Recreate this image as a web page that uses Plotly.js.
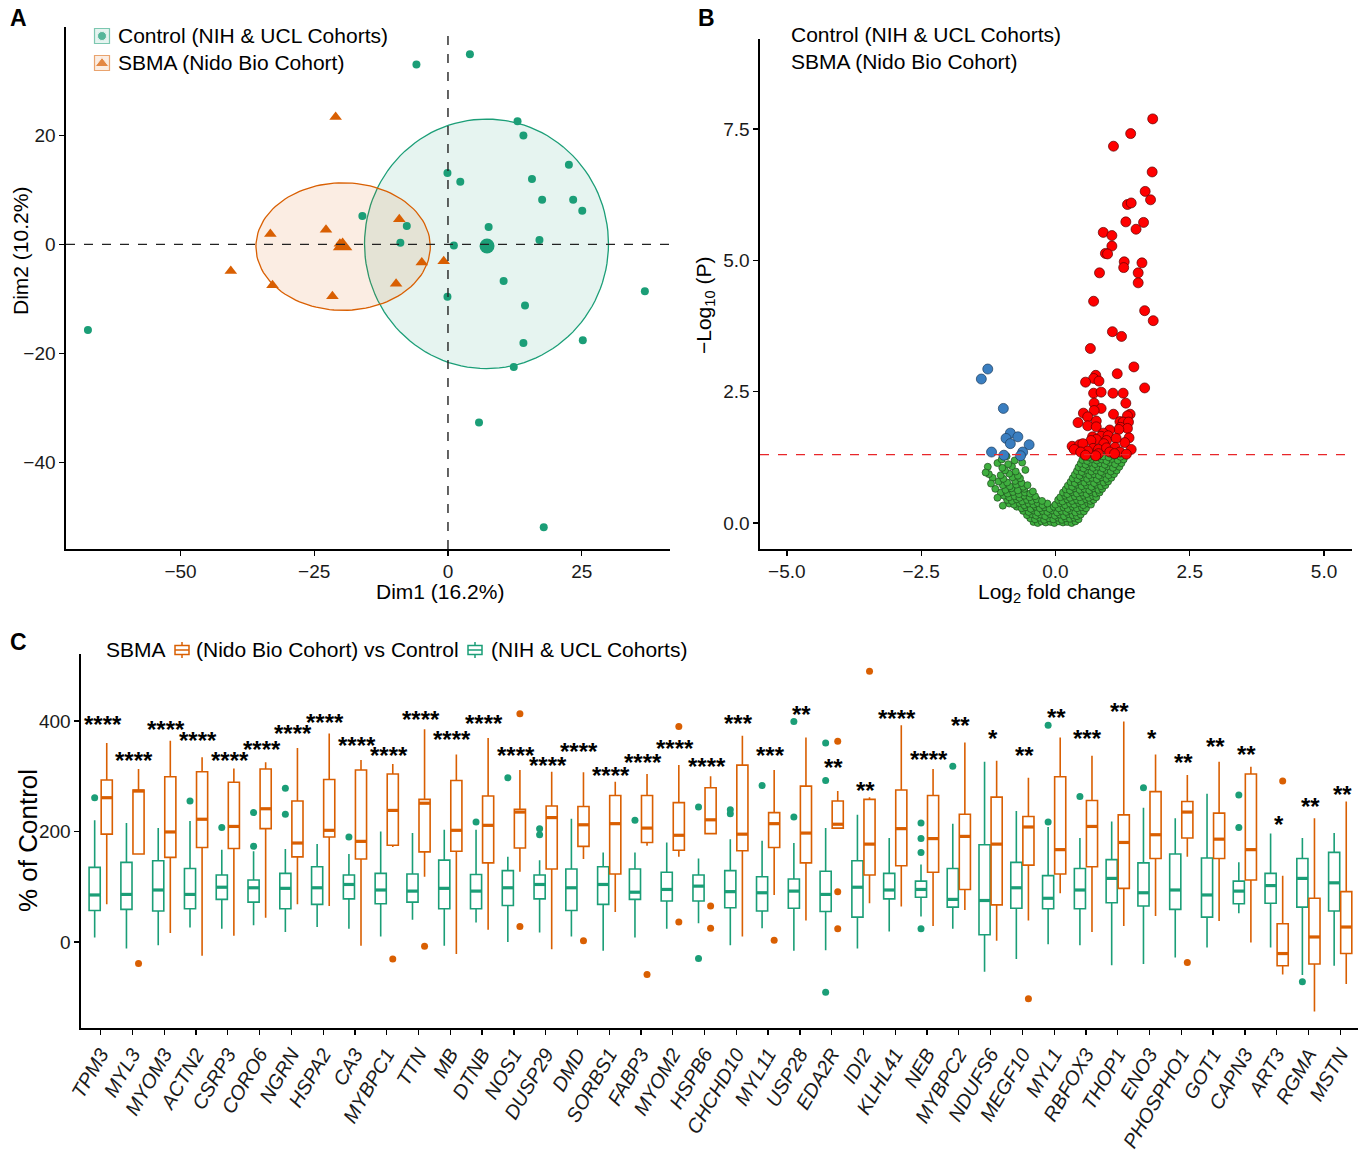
<!DOCTYPE html>
<html><head><meta charset="utf-8">
<script src="https://cdn.plot.ly/plotly-3.0.1.min.js"></script>
<style>html,body{margin:0;padding:0;background:#fff}#chart{width:1366px;height:1153px}</style>
</head><body><div id="chart"></div>
<script>
// ---------------- Panel A : PCA individuals ----------------
const ctrlDim1 = [-5.9, 4.1, 13.0, 14.1, 22.6, -0.1, 2.3, 15.7, 17.6, 23.4, 25.1, -16.0, -7.7, 7.6, -8.9, 1.1, 17.1, 10.4, -0.1, 14.4, 36.8, 14.1, 25.2, 12.3, -67.3, 5.8, 17.9];
const ctrlDim2 = [33.0, 34.9, 22.6, 20.0, 14.6, 13.1, 11.5, 12.0, 8.2, 8.2, 6.2, 5.2, 3.4, 3.2, 0.3, -0.2, 0.8, -6.7, -9.6, -11.2, -8.6, -18.1, -17.6, -22.5, -15.7, -32.7, -51.9];
const sbmaDim1 = [-21.0, -9.1, -22.8, -33.2, -20.2, -4.9, -0.8, -40.6, -32.8, -9.7, -21.6];
const sbmaDim2 = [23.4, 4.6, 2.7, 1.9, 0.1, -3.3, -3.1, -4.9, -7.5, -7.2, -9.5];
const groupNamesA = ['Control (NIH & UCL Cohorts)', 'SBMA (Nido Bio Cohort)'];
const centroidDim1 = [7.3, -19.7];
const centroidDim2 = [-0.3, -0.3];
const ellipseCx = [7.2, -19.6];
const ellipseCy = [0.1, -0.4];
const ellipseRx = [22.8, 16.3];
const ellipseRy = [22.9, 11.7];

// ---------------- Panel B : volcano ----------------
const upLogFC = [1.81,1.40,1.08,1.80,1.67,1.77,1.34,1.41,1.31,1.64,1.50,0.89,1.05,1.05,0.93,0.97,1.28,1.27,1.61,1.54,0.82,1.54,0.71,1.66,1.82,1.06,1.23,0.65,1.46,1.15,0.75,0.71,0.81,0.56,1.66,0.71,0.85,1.07,1.26,0.72,1.31,0.85,0.72,1.08,0.52,0.60,1.39,1.34,0.76,0.42,1.20,1.26,0.60,0.76,1.36,1.21,1.34,1.18,1.01,0.89,0.85,0.69,0.98,1.37,1.29,0.76,0.66,0.95,1.13,0.90,0.31,0.45,0.51,0.35,0.70,0.80,0.95,1.11,1.41,0.60,0.47,1.01,0.80,0.56,0.75,1.20,1.32,1.10];
const upLogP = [7.69,7.41,7.17,6.68,6.31,6.15,6.06,6.09,5.73,5.72,5.59,5.53,5.47,5.27,5.13,5.12,4.97,4.86,4.95,4.76,4.76,4.57,4.22,4.04,3.85,3.64,3.55,3.32,2.97,2.84,2.81,2.75,2.70,2.68,2.57,2.47,2.49,2.47,2.47,2.28,2.28,2.18,2.14,2.07,2.09,2.02,2.07,2.04,1.94,1.91,1.93,1.92,1.85,1.83,1.92,1.82,1.80,1.78,1.77,1.71,1.65,1.64,1.66,1.62,1.53,1.59,1.57,1.57,1.61,1.51,1.46,1.49,1.51,1.40,1.42,1.40,1.43,1.44,1.40,1.37,1.35,1.35,1.32,1.29,1.28,1.35,1.31,1.32];
const downLogFC = [-1.26,-1.38,-0.97,-0.84,-0.92,-0.70,-0.84,-0.49,-1.19,-0.96,-0.61,-0.65];
const downLogP = [2.93,2.74,2.18,1.71,1.61,1.64,1.51,1.49,1.35,1.29,1.35,1.28];
// non-significant genes (log2FC, -log10 P), read from the dense cloud
const nsPoints = [
 [-0.41,0.02],[-0.33,0.00],[-0.26,0.03],[-0.18,0.01],[-0.09,0.02],[-0.02,0.00],[0.07,0.03],[0.14,0.01],[0.22,0.02],[0.30,0.00],[0.37,0.03],
 [-0.47,0.09],[-0.38,0.07],[-0.29,0.10],[-0.21,0.06],[-0.12,0.09],[-0.04,0.07],[0.05,0.10],[0.12,0.06],[0.19,0.09],[0.27,0.08],[0.35,0.10],[0.43,0.07],
 [-0.53,0.15],[-0.44,0.17],[-0.36,0.14],[-0.27,0.16],[-0.19,0.13],[-0.10,0.17],[-0.01,0.14],[0.08,0.16],[0.16,0.13],[0.24,0.17],[0.32,0.15],[0.40,0.13],[0.47,0.16],
 [-0.60,0.23],[-0.50,0.21],[-0.41,0.24],[-0.33,0.20],[-0.24,0.23],[-0.15,0.21],[-0.06,0.24],[0.03,0.20],[0.11,0.23],[0.20,0.21],[0.28,0.24],[0.37,0.20],[0.45,0.23],[0.53,0.22],
 [-0.72,0.31],[-0.63,0.28],[-0.55,0.30],[-0.46,0.27],[-0.37,0.31],[-0.29,0.28],[-0.20,0.30],[-0.11,0.27],[-0.03,0.31],[0.06,0.28],[0.15,0.30],[0.23,0.27],[0.32,0.31],[0.40,0.28],[0.49,0.30],[0.57,0.28],
 [-0.86,0.37],[-0.77,0.35],[-0.67,0.38],[-0.58,0.34],[-0.50,0.37],[-0.41,0.35],[-0.33,0.38],[-0.24,0.34],[-0.15,0.37],[0.00,0.35],[0.09,0.38],[0.18,0.34],[0.27,0.37],[0.35,0.35],[0.44,0.38],[0.52,0.34],[0.61,0.37],[0.66,0.35],
 [-0.90,0.44],[-0.81,0.42],[-0.72,0.45],[-0.62,0.41],[-0.53,0.44],[-0.44,0.42],[-0.35,0.45],[-0.25,0.42],[0.05,0.44],[0.13,0.41],[0.22,0.45],[0.31,0.42],[0.40,0.44],[0.48,0.41],[0.57,0.45],[0.65,0.42],[0.71,0.44],
 [-0.96,0.52],[-0.86,0.49],[-0.76,0.51],[-0.67,0.48],[-0.58,0.52],[-0.48,0.49],[-0.38,0.51],[0.09,0.49],[0.18,0.52],[0.27,0.48],[0.36,0.51],[0.45,0.49],[0.53,0.52],[0.62,0.48],[0.70,0.51],[0.76,0.49],
 [-1.02,0.58],[-0.89,0.56],[-0.79,0.59],[-0.68,0.55],[-0.57,0.58],[-0.47,0.56],[0.14,0.58],[0.22,0.55],[0.31,0.59],[0.40,0.56],[0.49,0.58],[0.58,0.55],[0.66,0.59],[0.75,0.56],[0.82,0.58],
 [-1.12,0.65],[-0.93,0.63],[-0.82,0.66],[-0.70,0.62],[-0.58,0.65],[0.19,0.64],[0.27,0.62],[0.36,0.66],[0.45,0.63],[0.54,0.65],[0.63,0.62],[0.71,0.66],[0.80,0.63],[0.87,0.65],
 [-0.98,0.72],[-0.85,0.70],[-0.73,0.73],[-0.60,0.69],[0.23,0.71],[0.31,0.69],[0.40,0.73],[0.49,0.70],[0.58,0.72],[0.67,0.69],[0.76,0.73],[0.85,0.70],[0.93,0.72],
 [-1.06,0.79],[-0.90,0.77],[-0.75,0.80],[-0.63,0.76],[0.28,0.78],[0.36,0.76],[0.45,0.80],[0.54,0.77],[0.63,0.79],[0.72,0.76],[0.81,0.80],[0.90,0.77],[0.98,0.79],
 [-1.17,0.86],[-0.97,0.84],[-0.80,0.87],[-0.66,0.85],[0.32,0.85],[0.41,0.83],[0.50,0.87],[0.59,0.84],[0.68,0.86],[0.77,0.83],[0.86,0.87],[0.95,0.84],[1.04,0.86],
 [-1.24,0.93],[-1.02,0.91],[-0.86,0.94],[-0.70,0.90],[0.36,0.92],[0.45,0.90],[0.54,0.94],[0.63,0.91],[0.72,0.93],[0.81,0.90],[0.90,0.94],[0.99,0.91],[1.09,0.93],
 [-0.94,1.00],[-0.74,0.98],[-0.56,1.01],[0.40,0.99],[0.49,0.97],[0.58,1.01],[0.67,0.98],[0.76,1.00],[0.85,0.97],[0.94,1.01],[1.03,0.98],[1.14,1.00],
 [-1.26,1.07],[-0.99,1.05],[-0.81,1.08],[0.43,1.06],[0.52,1.04],[0.61,1.08],[0.70,1.05],[0.79,1.07],[0.88,1.04],[0.97,1.08],[1.07,1.05],[1.19,1.07],
 [-1.08,1.14],[-0.88,1.12],[-0.62,1.15],[0.47,1.13],[0.56,1.11],[0.65,1.15],[0.74,1.12],[0.83,1.14],[0.92,1.11],[1.01,1.15],[1.11,1.12],[1.23,1.14],
 [-1.00,1.21],[-0.76,1.19],[0.50,1.20],[0.59,1.18],[0.68,1.22],[0.77,1.19],[0.86,1.21],[0.95,1.18],[1.05,1.22],[1.16,1.19],[1.27,1.21],
 [-0.91,1.27],[-0.66,1.26],[0.53,1.27],[0.62,1.25],[0.71,1.28],[0.80,1.26],[0.89,1.27],[0.99,1.25],[1.09,1.28],[1.21,1.26],
 [-1.30,0.96],[-1.20,0.75],[-1.08,0.48],[-0.98,0.33],[-0.42,0.60],[-0.52,0.72]
];
const pThreshold = 0.05;

// ---------------- Panel C : box plots ----------------
const genes = ['TPM3','MYL3','MYOM3','ACTN2','CSRP3','CORO6','NGRN','HSPA2','CA3','MYBPC1','TTN','MB','DTNB','NOS1','DUSP29','DMD','SORBS1','FABP3','MYOM2','HSPB6','CHCHD10','MYL11','USP28','EDA2R','IDI2','KLHL41','NEB','MYBPC2','NDUFS6','MEGF10','MYL1','RBFOX3','THOP1','ENO3','PHOSPHO1','GOT1','CAPN3','ART3','RGMA','MSTN'];
const ctrlQ1  = [57,59,56,60,77,72,60,68,78,69,72,60,60,66,78,57,68,77,74,74,62,56,61,55,45,78,81,63,13,61,60,60,71,65,59,45,69,70,63,56];
const ctrlMed = [85,86,94,86,99,98,97,98,104,94,92,97,92,98,104,98,104,90,95,101,91,89,92,86,99,94,95,77,75,98,79,94,115,89,94,85,92,102,115,107];
const ctrlQ3  = [135,144,147,133,121,112,124,136,121,124,123,148,122,129,121,132,136,132,126,121,129,118,114,128,147,124,110,133,176,144,120,133,149,143,159,152,110,124,151,162];
const ctrlLo  = [8,-12,-6,26,24,30,18,27,24,10,40,-7,35,0,17,10,-16,8,24,34,-6,25,-16,-15,-12,19,46,24,-54,-31,-4,-6,-42,-40,-28,-10,52,-10,-60,-43];
const ctrlHi  = [220,215,206,219,167,164,168,177,159,200,197,203,203,154,148,223,162,162,180,151,186,183,179,206,230,188,140,214,326,237,208,188,218,243,224,268,144,196,188,197];
const sbmaQ1  = [195,159,153,171,169,205,154,190,150,175,163,164,143,170,132,173,123,180,166,196,165,171,143,206,121,138,126,95,67,139,123,136,97,151,188,151,112,-43,-40,-21];
const sbmaMed = [261,273,199,222,209,241,179,202,182,238,251,202,211,235,225,212,214,206,193,221,195,214,197,213,177,205,187,191,177,208,167,209,180,194,235,186,167,-21,9,27];
const sbmaQ3  = [293,275,299,308,289,313,255,294,311,304,258,292,264,240,246,245,265,265,252,279,320,234,282,255,258,275,265,231,262,227,299,256,230,272,254,233,304,33,79,91];
const sbmaLo  = [68,159,16,-25,11,44,68,65,-7,172,118,-22,22,127,-13,150,54,174,154,196,10,85,39,206,70,64,29,58,2,39,88,18,29,47,154,38,-1,-59,-126,-76];
const sbmaHi  = [360,313,364,334,314,325,351,377,329,322,385,339,369,311,308,307,290,304,320,300,373,311,370,273,262,392,313,361,328,297,370,337,399,339,302,326,317,120,224,254];
const ctrlOutGene = ['TPM3','ACTN2','CSRP3','CORO6','CORO6','NGRN','NGRN','CA3','DTNB','NOS1','DUSP29','DUSP29','FABP3','HSPB6','HSPB6','CHCHD10','CHCHD10','MYL11','USP28','USP28','EDA2R','EDA2R','EDA2R','NEB','NEB','NEB','NEB','MYBPC2','MYL1','MYL1','RBFOX3','ENO3','CAPN3','CAPN3','RGMA'];
const ctrlOutVal  = [261,255,207,234,173,278,231,190,217,297,205,194,220,244,-30,239,232,283,399,226,360,292,-91,215,187,162,24,318,392,217,263,279,266,207,-72];
const sbmaOutGene = ['MYL3','MYBPC1','TTN','NOS1','NOS1','DMD','FABP3','MYOM2','MYOM2','HSPB6','HSPB6','MYL11','EDA2R','EDA2R','EDA2R','IDI2','MEGF10','PHOSPHO1','ART3'];
const sbmaOutVal  = [-39,-31,-8,413,28,2,-59,390,36,65,25,3,363,91,24,490,-103,-37,291];
const sigLabel = ['****','****','****','****','****','****','****','****','****','****','****','****','****','****','****','****','****','****','****','****','***','***','**','**','**','****','****','**','*','**','**','***','**','*','**','**','**','*','**','**'];
const sigY = [402,337,394,373,337,357,386,407,364,346,411,375,404,346,329,354,311,334,359,327,404,346,420,324,283,413,340,401,377,346,415,378,426,378,334,362,349,221,254,275];
const legendTitleC = 'SBMA';
const groupNamesC = ['(Nido Bio Cohort) vs Control', '(NIH & UCL Cohorts)'];

// ---------------- styling ----------------
const FONT = 'Liberation Sans, Arial, Helvetica, sans-serif';
const GREEN = '#1B9E77', ORANGE = '#D95F02';
const GREEN_FILL = 'rgba(27,158,119,0.11)', ORANGE_FILL = 'rgba(217,95,2,0.11)';
const W = 1366, H = 1153;
const px = v => v / W, py = v => 1 - v / H;
const traces = [];

// Panel A ellipses
for (let g = 0; g < 2; g++) {
  const ex = [], ey = [];
  for (let k = 0; k <= 120; k++) {
    const t = 2 * Math.PI * k / 120;
    ex.push(ellipseCx[g] + ellipseRx[g] * Math.cos(t));
    ey.push(ellipseCy[g] + ellipseRy[g] * Math.sin(t));
  }
  traces.push({type:'scatter', mode:'lines', x:ex, y:ey, xaxis:'x', yaxis:'y', fill:'toself',
    fillcolor: g === 0 ? GREEN_FILL : ORANGE_FILL, line:{color: g === 0 ? GREEN : ORANGE, width:1.3}, hoverinfo:'skip'});
}
traces.push({type:'scatter', mode:'markers', x:ctrlDim1, y:ctrlDim2, xaxis:'x', yaxis:'y', marker:{color:GREEN, size:8, symbol:'circle'}});
traces.push({type:'scatter', mode:'markers', x:sbmaDim1, y:sbmaDim2, xaxis:'x', yaxis:'y', marker:{color:ORANGE, size:11, symbol:'triangle-up'}});
traces.push({type:'scatter', mode:'markers', x:[centroidDim1[0]], y:[centroidDim2[0]], xaxis:'x', yaxis:'y', marker:{color:GREEN, size:15, symbol:'circle'}});
traces.push({type:'scatter', mode:'markers', x:[centroidDim1[1]], y:[centroidDim2[1]], xaxis:'x', yaxis:'y', marker:{color:ORANGE, size:17, symbol:'triangle-up'}});

// Panel B
traces.push({type:'scatter', mode:'markers', x:nsPoints.map(p => p[0]), y:nsPoints.map(p => p[1]), xaxis:'x2', yaxis:'y2',
  marker:{color:'#3FAF3F', size:7, line:{color:'#1e4d1e', width:0.7}}});
traces.push({type:'scatter', mode:'markers', x:upLogFC, y:upLogP, xaxis:'x2', yaxis:'y2',
  marker:{color:'#FF0000', size:10, line:{color:'#5a0000', width:0.7}}});
traces.push({type:'scatter', mode:'markers', x:downLogFC, y:downLogP, xaxis:'x2', yaxis:'y2',
  marker:{color:'#3A7EC0', size:10, line:{color:'#1c3c5c', width:0.7}}});

// Panel C
const idx = genes.map((g, i) => i);
const OFF = 0.19, BW = 0.35;
function boxTrace(q1, med, q3, lo, hi, off, col) {
  return {type:'box', x: idx.map(i => i + off), q1, median: med, q3, lowerfence: lo, upperfence: hi,
    xaxis:'x3', yaxis:'y3', width: BW, fillcolor:'rgba(255,255,255,0)', line:{color:col, width:1.6},
    whiskerwidth:0, boxpoints:false, hoverinfo:'skip'};
}
function medTrace(med, off, col) {
  const x = [], y = [];
  med.forEach((m, i) => { x.push(i + off - BW/2, i + off + BW/2, null); y.push(m, m, null); });
  return {type:'scatter', mode:'lines', x, y, xaxis:'x3', yaxis:'y3', line:{color:col, width:3.2}, hoverinfo:'skip'};
}
function outTrace(gArr, vArr, off, col) {
  return {type:'scatter', mode:'markers', x: gArr.map(g => genes.indexOf(g) + off), y: vArr, xaxis:'x3', yaxis:'y3',
    marker:{color:col, size:7}, hoverinfo:'skip'};
}
traces.push(boxTrace(ctrlQ1, ctrlMed, ctrlQ3, ctrlLo, ctrlHi, -OFF, GREEN));
traces.push(boxTrace(sbmaQ1, sbmaMed, sbmaQ3, sbmaLo, sbmaHi, OFF, ORANGE));
traces.push(medTrace(ctrlMed, -OFF, GREEN));
traces.push(medTrace(sbmaMed, OFF, ORANGE));
traces.push(outTrace(ctrlOutGene, ctrlOutVal, -OFF, GREEN));
traces.push(outTrace(sbmaOutGene, sbmaOutVal, OFF, ORANGE));

// Legend key symbols (pixel overlay axis)
traces.push({type:'scatter', mode:'markers', x:[102, 102], y:[36, 63.5], xaxis:'x4', yaxis:'y4',
  marker:{color:[GREEN, ORANGE], size:[9, 12], symbol:['circle', 'triangle-up']}, hoverinfo:'skip'});

const ax = {showline:true, linecolor:'#000', linewidth:1.6, ticks:'outside', ticklen:5, tickwidth:1.3, tickcolor:'#000',
  showgrid:false, zeroline:false, tickfont:{size:19, color:'#1a1a1a', family:FONT}};

function note(text, x, y, size, opts) {
  return Object.assign({text, x:px(x), y:py(y), xref:'paper', yref:'paper', xanchor:'left', yanchor:'middle',
    showarrow:false, font:{size, color:'#000'}}, opts || {});
}
const annotations = [
  note('<b>A</b>', 8, 18, 23), note('<b>B</b>', 696, 18, 23), note('<b>C</b>', 8, 642, 23),
  note(groupNamesA[0], 116, 36, 21), note(groupNamesA[1], 116, 63, 21),
  note(groupNamesA[0], 789, 35, 21), note(groupNamesA[1], 789, 62, 21),
  note(legendTitleC, 104, 649, 21), note(groupNamesC[0], 194, 649, 21), note(groupNamesC[1], 489, 649, 21),
  note('Dim1 (16.2%)', 440, 591, 21, {xanchor:'center'}),
  note('Dim2 (10.2%)', 20, 251, 21, {xanchor:'center', textangle:-90}),
  note('Log<sub>2</sub> fold change', 1057, 593, 21, {xanchor:'center'}),
  note('\u2212Log<sub>10</sub> (P)', 705, 306, 21, {xanchor:'center', textangle:-90}),
  note('% of Control', 28, 841, 26, {xanchor:'center', textangle:-90})
];
sigLabel.forEach((s, i) => annotations.push({text:'<b>' + s + '</b>', x:i, y:sigY[i], xref:'x3', yref:'y3', showarrow:false,
  xanchor:'center', yanchor:'middle', yshift:-5, xshift:2, font:{size:24, color:'#000'}}));

// legend key boxes (pixel coordinates of the legend area)
function keyBox(x0, x1, y0, y1, col, fill) {
  return {type:'rect', xref:'x4', yref:'y4', x0, x1, y0, y1, line:{color:col, width:1.2}, fillcolor:fill};
}
function boxKey(cx, col) {
  return [
    {type:'rect', xref:'x4', yref:'y4', x0:cx-7, x1:cx+7, y0:645.5, y1:654.5, line:{color:col, width:1.5}, fillcolor:'#fff'},
    {type:'line', xref:'x4', yref:'y4', x0:cx-7, x1:cx+7, y0:650, y1:650, line:{color:col, width:1.5}},
    {type:'line', xref:'x4', yref:'y4', x0:cx, x1:cx, y0:642, y1:645.5, line:{color:col, width:1.5}},
    {type:'line', xref:'x4', yref:'y4', x0:cx, x1:cx, y0:654.5, y1:658, line:{color:col, width:1.5}}
  ];
}

const layout = {
  width:W, height:H, margin:{l:0, r:0, t:0, b:0}, paper_bgcolor:'#fff', plot_bgcolor:'rgba(0,0,0,0)',
  font:{family:FONT, color:'#000'}, boxmode:'overlay', hovermode:false, showlegend:false,
  xaxis: Object.assign({}, ax, {domain:[px(66), px(670)], range:[-71.4, 41.5], dtick:25, anchor:'y'}),
  yaxis: Object.assign({}, ax, {domain:[py(549), py(27)], range:[-55.9, 39.9], dtick:20, anchor:'x'}),
  xaxis2: Object.assign({}, ax, {domain:[px(760), px(1352)], range:[-5.5, 5.52], dtick:2.5, tickformat:'.1f', anchor:'y2'}),
  yaxis2: Object.assign({}, ax, {domain:[py(549), py(39)], range:[-0.495, 9.21], dtick:2.5, tickformat:'.1f', anchor:'x2'}),
  xaxis3: Object.assign({}, ax, {domain:[px(81), px(1358)], range:[-0.62, 39.56], anchor:'y3',
    tickvals: idx, ticktext: genes.map(g => '<i>' + g + '</i>'), tickangle:-60, tickfont:{size:20, color:'#1a1a1a', family:FONT}}),
  yaxis3: Object.assign({}, ax, {domain:[py(1028), py(654)], range:[-155.7, 521], dtick:200, anchor:'x3'}),
  xaxis4: {domain:[0, 1], range:[0, W], visible:false, anchor:'y4', fixedrange:true},
  yaxis4: {domain:[0, 1], range:[H, 0], visible:false, anchor:'x4', fixedrange:true},
  shapes: [
    {type:'line', xref:'x', yref:'y domain', x0:0, x1:0, y0:0, y1:1, line:{color:'#222', width:1.4, dash:'dash'}},
    {type:'line', xref:'x domain', yref:'y', x0:0, x1:1, y0:0, y1:0, line:{color:'#222', width:1.4, dash:'dash'}},
    {type:'line', xref:'x2 domain', yref:'y2', x0:0, x1:1, y0:-Math.log10(pThreshold), y1:-Math.log10(pThreshold), line:{color:'#E8262A', width:1.3, dash:'dash'}},
    keyBox(94.5, 109.5, 28.5, 43.5, 'rgba(27,158,119,0.55)', GREEN_FILL),
    keyBox(94.5, 109.5, 55.5, 70.5, 'rgba(217,95,2,0.55)', ORANGE_FILL)
  ].concat(boxKey(182, ORANGE), boxKey(475, GREEN)),
  annotations
};
Plotly.newPlot('chart', traces, layout, {staticPlot:true});
</script></body></html>
